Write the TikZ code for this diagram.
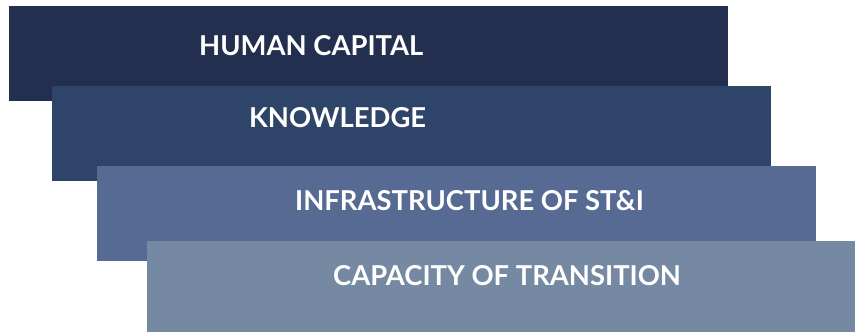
\documentclass[tikz,border=0pt]{standalone}
\usepackage{fontspec}
\setmainfont{Lato}
\usepackage{tikz}
\usetikzlibrary{calc}

\definecolor{bandone}{RGB}{35,47,78}
\definecolor{bandtwo}{RGB}{47,68,105}
\definecolor{bandthree}{RGB}{86,106,147}
\definecolor{bandfour}{RGB}{118,137,163}

\tikzset{
  band/.style={anchor=north west,inner sep=0pt,minimum width=719pt,minimum height=95pt},
  caption/.style={anchor=base west,inner sep=0pt,text=white,font=\fontsize{27.4}{31}\selectfont\bfseries}
}

\begin{document}
\begin{tikzpicture}[x=1pt,y=-1pt]
\useasboundingbox (0,0) rectangle (855,332);
\clip (0,0) rectangle (855,332);

\node[band,fill=bandone] (human) at (9,6) {};
\node[band,fill=bandtwo] (knowledge) at (52,86) {};
\node[band,fill=bandthree] (infra) at (97,166) {};
\node[band,fill=bandfour] (capacity) at (147,241) {};

\node[caption] (humantext) at (199,55) {HUMAN CAPITAL};
\node[caption] (knowtext) at (249,127) {KNOWLEDGE};
\node[caption] (infratext) at (295,210) {INFRASTRUCTURE OF ST\&I};
\node[caption] (captext) at (333,285) {CAPACITY OF TRANSITION};

\end{tikzpicture}
\end{document}
